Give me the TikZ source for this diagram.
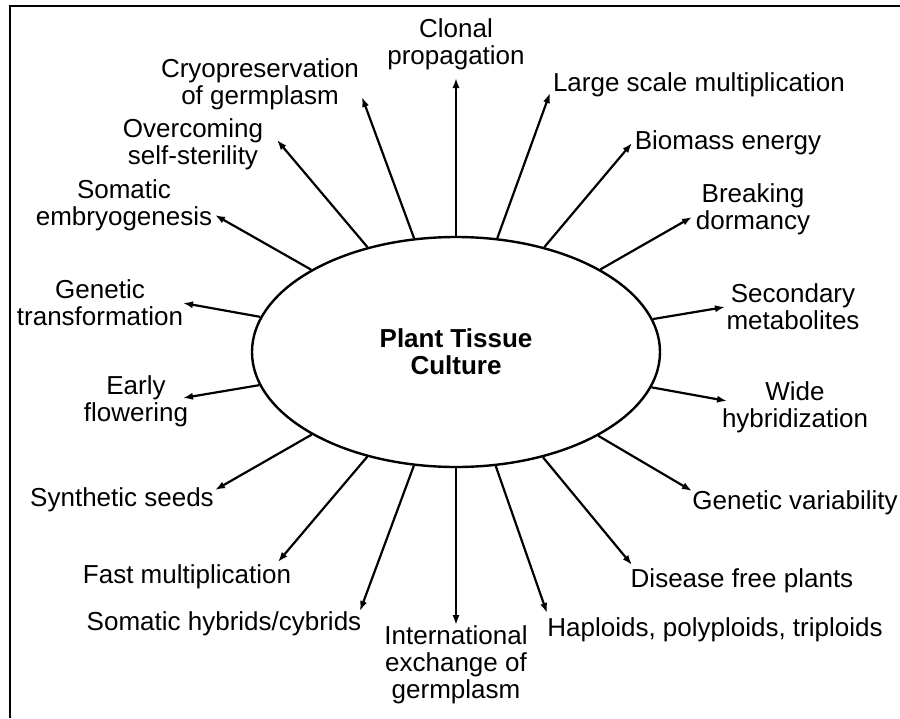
\documentclass[tikz,border=0pt]{standalone}
\usepackage{fontspec}
\setmainfont{Liberation Sans}
\usetikzlibrary{positioning,arrows.meta,shapes.geometric}

\begin{document}
\begin{tikzpicture}[x=0.5pt,y=-0.5pt,
    lbl/.style={align=center,inner sep=0pt,font=\fontsize{13}{13.5}\selectfont},
    arr/.style={line width=1.1pt,-{Latex[length=5pt,width=3.6pt]}},
    hub/.style={ellipse,draw,line width=1.2pt,minimum width=204pt,
                minimum height=115pt,inner sep=0pt,align=center,
                font=\fontsize{13}{13.5}\selectfont\bfseries}]
        \useasboundingbox (0,0) rectangle (900,718);
        \draw[line width=1.2pt] (900,6) -- (10,6) -- (10,718);
        % centre
        \node[hub] (ptc) at (456,352) {Plant Tissue\\Culture};
        % labels
        \node[lbl] (cryo) at (260,84) {Cryopreservation\\of germplasm};
        \node[lbl] (clonal) at (456,44) {Clonal\\propagation};
        \node[lbl] (large) at (699,85) {Large scale multiplication};
        \node[lbl] (biomass) at (728,143) {Biomass energy};
        \node[lbl] (breaking) at (753,209) {Breaking\\dormancy};
        \node[lbl] (secondary) at (793,307) {Secondary\\metabolites};
        \node[lbl] (wide) at (795,407) {Wide\\hybridization};
        \node[lbl] (variability) at (795,503) {Genetic variability};
        \node[lbl] (disease) at (742,581) {Disease free plants};
        \node[lbl] (haploids) at (715,630) {Haploids, polyploids, triploids};
        \node[lbl] (exchange) at (456,665) {International\\exchange of\\germplasm};
        \node[lbl] (hybrids) at (224,624) {Somatic hybrids/cybrids};
        \node[lbl] (fastmult) at (187,577) {Fast multiplication};
        \node[lbl] (synseeds) at (122,500) {Synthetic seeds};
        \node[lbl] (early) at (136,401) {Early\\flowering};
        \node[lbl] (transform) at (100,303) {Genetic\\transformation};
        \node[lbl] (embryo) at (124,205) {Somatic\\embryogenesis};
        \node[lbl] (selfster) at (193,144) {Overcoming\\self-sterility};
        % arrow ends
        \coordinate (tCryo) at (362,97);
        \coordinate (tClonal) at (456,78);
        \coordinate (tLarge) at (550,93);
        \coordinate (tBiomass) at (632,143);
        \coordinate (tBreaking) at (692,217);
        \coordinate (tSecondary) at (725,307);
        \coordinate (tWide) at (727,401);
        \coordinate (tVariability) at (692,491);
        \coordinate (tDisease) at (632,565);
        \coordinate (tHaploids) at (547,613);
        \coordinate (tExchange) at (456,625);
        \coordinate (tHybrids) at (360,611);
        \coordinate (tFastmult) at (278,562);
        \coordinate (tSynseeds) at (215,490);
        \coordinate (tEarly) at (183,398);
        \coordinate (tTransform) at (183,303);
        \coordinate (tEmbryo) at (215,215);
        \coordinate (tSelfster) at (277,140);
        \draw[arr] (ptc) -- (tCryo);
        \draw[arr] (ptc) -- (tClonal);
        \draw[arr] (ptc) -- (tLarge);
        \draw[arr] (ptc) -- (tBiomass);
        \draw[arr] (ptc) -- (tBreaking);
        \draw[arr] (ptc) -- (tSecondary);
        \draw[arr] (ptc) -- (tWide);
        \draw[arr] (ptc) -- (tVariability);
        \draw[arr] (ptc) -- (tDisease);
        \draw[arr] (ptc) -- (tHaploids);
        \draw[arr] (ptc) -- (tExchange);
        \draw[arr] (ptc) -- (tHybrids);
        \draw[arr] (ptc) -- (tFastmult);
        \draw[arr] (ptc) -- (tSynseeds);
        \draw[arr] (ptc) -- (tEarly);
        \draw[arr] (ptc) -- (tTransform);
        \draw[arr] (ptc) -- (tEmbryo);
        \draw[arr] (ptc) -- (tSelfster);
      \end{tikzpicture}
\end{document}
